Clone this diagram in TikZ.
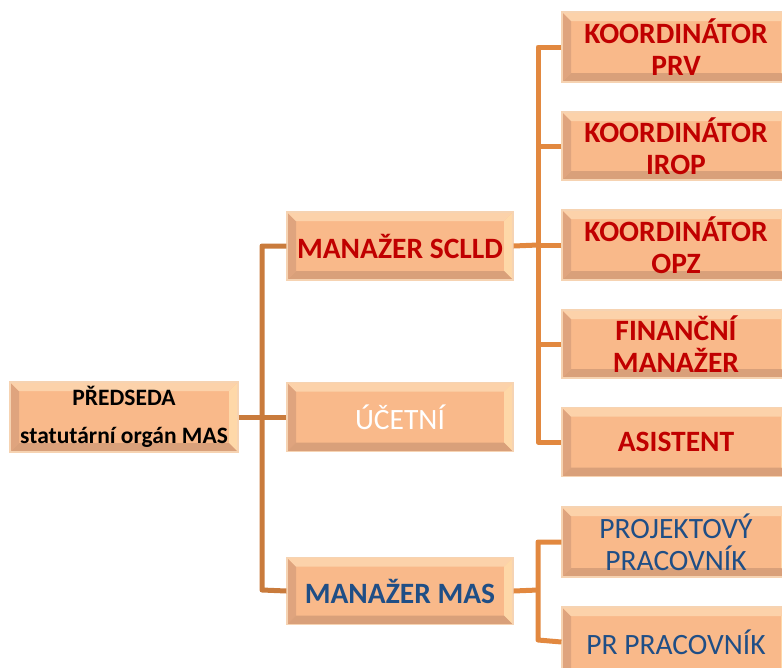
\documentclass[tikz,border=0pt]{standalone}
\usepackage{fontspec}
\setmainfont{Carlito}
\definecolor{boxfill}{HTML}{F9B98A}
\definecolor{bevtop}{HTML}{FCD2AA}
\definecolor{bevleft}{HTML}{DFA47E}
\definecolor{bevright}{HTML}{FED8A8}
\definecolor{bevbot}{HTML}{D9A07A}
\definecolor{boxedge}{HTML}{F6D3B2}
\definecolor{redtxt}{HTML}{C00000}
\definecolor{bluetxt}{HTML}{1F4E86}
\definecolor{lineA}{HTML}{C97B3C}
\definecolor{lineB}{HTML}{E2883F}
\begin{document}
\begin{tikzpicture}[x=1pt,y=-1pt,
  orgbox/.style={draw=boxedge, line width=1.2pt, fill=boxfill, inner sep=0pt, align=center,
    minimum width=#1, minimum height=68pt,
    path picture={
      \fill[bevleft] (path picture bounding box.north west) -- (path picture bounding box.south west)
        -- ([shift={(9pt,9pt)}]path picture bounding box.south west) -- ([shift={(9pt,-9pt)}]path picture bounding box.north west) -- cycle;
      \fill[bevtop] (path picture bounding box.north west) -- (path picture bounding box.north east)
        -- ([shift={(-9pt,-9pt)}]path picture bounding box.north east) -- ([shift={(9pt,-9pt)}]path picture bounding box.north west) -- cycle;
      \fill[bevright] (path picture bounding box.north east) -- (path picture bounding box.south east)
        -- ([shift={(-9pt,9pt)}]path picture bounding box.south east) -- ([shift={(-9pt,-9pt)}]path picture bounding box.north east) -- cycle;
      \fill[bevbot] (path picture bounding box.south west) -- (path picture bounding box.south east)
        -- ([shift={(-9pt,9pt)}]path picture bounding box.south east) -- ([shift={(9pt,9pt)}]path picture bounding box.south west) -- cycle;
    }},
  redb/.style={font=\fontsize{29.5}{32}\selectfont\bfseries, text=redtxt},
  blueb/.style={font=\fontsize{29.5}{32}\selectfont\bfseries, text=bluetxt},
  bluen/.style={font=\fontsize{29.5}{32}\selectfont, text=bluetxt},
  whiten/.style={font=\fontsize{29.5}{32}\selectfont, text=white},
  blackb/.style={font=\fontsize{23.5}{38}\selectfont\bfseries, text=black},
  linkA/.style={draw=lineA, line width=5pt, line join=round},
  linkB/.style={draw=lineB, line width=5pt, line join=round}
]
\useasboundingbox (0,0) rectangle (782,667);
\coordinate (tA) at (262,246);
\coordinate (tB) at (262,590);
\coordinate (r1) at (538,47);
\coordinate (r3) at (538,245);
\coordinate (r5) at (538,442);
\coordinate (m1) at (538,542);
\coordinate (m0) at (538,590);
\coordinate (m2) at (538,640);

% boxes
\node[orgbox=228pt, minimum height=70pt, blackb] (pred) at (124,417) {PŘEDSEDA\\statutární orgán MAS};
\node[orgbox=226pt, redb] (sclld) at (400,246) {MANAŽER SCLLD};
\node[orgbox=226pt, minimum height=69pt, whiten] (ucet) at (400,417) {ÚČETNÍ};
\node[orgbox=226pt, minimum height=67pt, blueb] (mas) at (400,591) {MANAŽER MAS};
\node[orgbox=228pt, minimum height=70pt, redb] (prv) at (676,47) {KOORDINÁTOR\\PRV};
\node[orgbox=228pt, redb] (irop) at (676,146) {KOORDINÁTOR\\IROP};
\node[orgbox=228pt, minimum height=70pt, redb] (opz) at (676,245) {KOORDINÁTOR\\OPZ};
\node[orgbox=228pt, redb] (fin) at (676,344) {FINANČNÍ\\MANAŽER};
\node[orgbox=228pt, minimum height=69pt, redb] (asis) at (676,442) {ASISTENT};
\node[orgbox=228pt, minimum height=70pt, bluen] (proj) at (676,542) {PROJEKTOVÝ\\PRACOVNÍK};
\node[orgbox=228pt, minimum height=70pt, bluen] (prp) at (676,642) {PR PRACOVNÍK};

% links
\draw[linkA] (pred.east) -- (ucet.west);
\draw[linkA] (sclld.west) -- (tA) -- (tB) -- (mas.west);
\draw[linkB] (sclld.east) -- (r3);
\draw[linkB] (prv.west) -- (r1) -- (r5) -- (asis.west);
\draw[linkB] (irop.west) -- (irop.west -| r1);
\draw[linkB] (opz.west) -- (r3);
\draw[linkB] (fin.west) -- (fin.west -| r1);
\draw[linkB] (mas.east) -- (m0);
\draw[linkB] (proj.west) -- (m1) -- (m2) -- (prp.west);
\end{tikzpicture}
\end{document}
